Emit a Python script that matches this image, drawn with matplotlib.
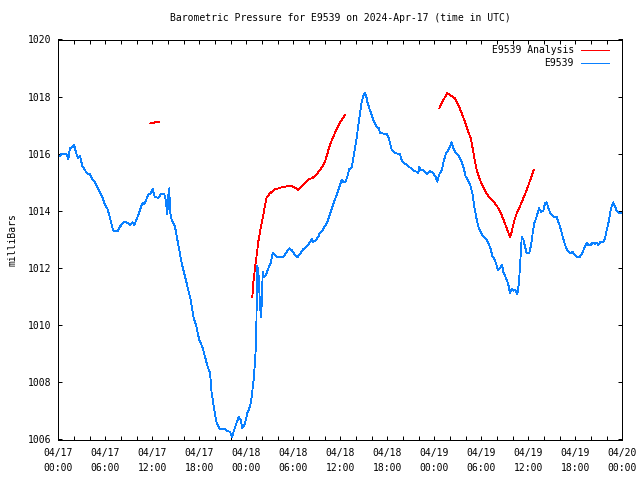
import numpy as np
import matplotlib
matplotlib.use("Agg")
import matplotlib.pyplot as plt
from matplotlib.lines import Line2D

# ---- data: hours since 2024-04-17 00:00 UTC, pressure in millibars ----
obs_hours = [0.0, 0.22, 0.34, 1.07, 1.28, 1.49, 1.79, 2.04, 2.13, 2.35, 2.55, 2.77, 2.90, 3.06,
             3.41, 3.63, 4.05, 4.34, 4.69, 4.98, 5.32, 5.67, 5.96, 6.26, 6.51, 6.73, 6.95, 7.11,
             7.58, 7.88, 8.30, 8.73, 9.15, 9.45, 9.70, 10.01, 10.30, 10.65, 10.85, 10.98, 11.29,
             11.49, 11.80, 12.05, 12.22, 12.35, 12.77, 13.07, 13.53, 13.71, 13.92, 14.04, 14.17,
             14.26, 14.48, 14.68, 14.90, 15.12, 15.41, 15.75, 16.18, 16.60, 16.90, 17.24, 17.58,
             18.00, 18.38, 18.73, 19.07, 19.37, 19.58, 19.92, 20.22, 20.64, 21.28, 21.50, 21.92,
             22.18, 22.34, 22.78, 23.03, 23.29, 23.49, 23.84, 24.13, 24.47, 24.69, 24.98, 25.24,
             25.33, 25.41, 25.53, 25.62, 25.75, 25.88, 26.00, 26.09, 26.26, 26.51, 26.81, 27.12,
             27.37, 27.58, 27.88, 28.72, 29.16, 29.49, 29.80, 30.22, 30.51, 30.86, 31.28, 31.79,
             32.13, 32.35, 32.55, 32.90, 33.19, 33.41, 33.75, 34.05, 34.34, 34.60, 34.90, 35.20,
             35.54, 35.87, 36.18, 36.38, 36.69, 36.89, 37.15, 37.46, 37.66, 37.88, 38.09, 38.30,
             38.52, 38.73, 38.94, 39.12, 39.28, 39.45, 39.70, 40.01, 40.30, 40.65, 40.94, 41.07,
             41.29, 41.93, 42.13, 42.35, 42.56, 42.98, 43.62, 43.84, 44.13, 44.48, 44.81, 45.12,
             45.41, 45.76, 45.96, 46.09, 46.27, 46.60, 47.03, 47.46, 47.87, 48.18, 48.39, 48.60,
             48.95, 49.24, 49.50, 49.79, 50.01, 50.22, 50.43, 50.77, 51.19, 51.50, 51.70, 52.01,
             52.34, 52.65, 52.90, 53.11, 53.33, 53.62, 53.96, 54.26, 54.69, 54.99, 55.24, 55.41,
             55.63, 55.88, 56.10, 56.39, 56.65, 56.81, 57.16, 57.41, 57.67, 57.88, 58.09, 58.34,
             58.60, 58.82, 58.94, 59.16, 59.36, 59.58, 59.80, 60.13, 60.35, 60.56, 60.77, 61.07,
             61.37, 61.62, 61.92, 62.13, 62.35, 62.56, 62.90, 63.19, 63.63, 64.05, 64.39, 64.69,
             64.98, 65.33, 65.62, 65.96, 66.26, 66.60, 66.90, 67.24, 67.46, 67.66, 67.97, 68.22,
             68.52, 68.73, 68.94, 69.16, 69.58, 69.80, 70.01, 70.31, 70.56, 70.85, 71.07, 71.29,
             71.58, 71.80]
obs_mbar = [1015.95, 1015.92, 1015.98, 1015.98, 1015.81, 1016.19, 1016.23, 1016.31, 1016.19,
            1015.96, 1015.86, 1015.92, 1015.78, 1015.57, 1015.43, 1015.32, 1015.28, 1015.11,
            1015.00, 1014.83, 1014.64, 1014.44, 1014.21, 1014.09, 1013.86, 1013.62, 1013.36,
            1013.30, 1013.30, 1013.45, 1013.60, 1013.60, 1013.51, 1013.60, 1013.51, 1013.71,
            1013.92, 1014.21, 1014.29, 1014.24, 1014.44, 1014.58, 1014.62, 1014.78, 1014.56,
            1014.48, 1014.46, 1014.58, 1014.58, 1014.38, 1013.89, 1014.53, 1014.79, 1013.97,
            1013.68, 1013.59, 1013.45, 1013.10, 1012.69, 1012.17, 1011.70, 1011.23, 1010.88,
            1010.30, 1010.01, 1009.48, 1009.25, 1008.90, 1008.55, 1008.32, 1007.62, 1007.03,
            1006.57, 1006.37, 1006.37, 1006.30, 1006.27, 1006.08, 1006.24, 1006.59, 1006.80,
            1006.68, 1006.39, 1006.57, 1006.92, 1007.15, 1007.50, 1008.20, 1009.31, 1010.88,
            1012.07, 1011.93, 1011.48, 1010.65, 1010.30, 1010.88, 1011.87, 1011.70, 1011.76,
            1011.99, 1012.17, 1012.53, 1012.49, 1012.38, 1012.38, 1012.57, 1012.69, 1012.63,
            1012.46, 1012.38, 1012.49, 1012.66, 1012.78, 1012.92, 1013.01, 1012.92, 1012.98,
            1013.10, 1013.24, 1013.33, 1013.47, 1013.62, 1013.82, 1014.06, 1014.32, 1014.56,
            1014.83, 1015.08, 1015.02, 1015.02, 1015.20, 1015.46, 1015.53, 1015.84, 1016.19,
            1016.54, 1017.01, 1017.42, 1017.82, 1018.02, 1018.12, 1018.06, 1017.82, 1017.59,
            1017.36, 1017.12, 1016.95, 1016.89, 1016.72, 1016.72, 1016.69, 1016.60, 1016.37,
            1016.13, 1016.02, 1015.99, 1015.78, 1015.67, 1015.61, 1015.53, 1015.49, 1015.41,
            1015.37, 1015.32, 1015.55, 1015.43, 1015.42, 1015.29, 1015.40, 1015.32, 1015.18,
            1015.02, 1015.26, 1015.43, 1015.78, 1016.02, 1016.13, 1016.25, 1016.40, 1016.19,
            1016.02, 1015.90, 1015.72, 1015.55, 1015.20, 1015.06, 1014.85, 1014.56, 1014.15,
            1013.80, 1013.45, 1013.24, 1013.10, 1012.98, 1012.81, 1012.63, 1012.40, 1012.34,
            1012.17, 1011.93, 1011.99, 1012.11, 1011.87, 1011.64, 1011.47, 1011.12, 1011.26,
            1011.21, 1011.23, 1011.09, 1011.52, 1012.05, 1013.08, 1013.01, 1012.75, 1012.52,
            1012.52, 1012.81, 1013.22, 1013.57, 1013.80, 1014.09, 1013.97, 1014.00, 1014.27,
            1014.30, 1014.09, 1013.88, 1013.80, 1013.78, 1013.45, 1013.10, 1012.81, 1012.63,
            1012.52, 1012.57, 1012.46, 1012.38, 1012.40, 1012.54, 1012.75, 1012.89, 1012.81,
            1012.81, 1012.89, 1012.84, 1012.89, 1012.81, 1012.90, 1012.90, 1013.04, 1013.33,
            1013.68, 1014.09, 1014.30, 1014.15, 1014.00, 1013.92, 1013.92]

# analysis series (NaN = gap between segments)
ana_hours = [11.71, 12.22, 12.30, 12.85, np.nan,
             24.77, 24.89, 25.11, 25.33, 25.53, 25.75, 25.97, 26.17, 26.39, 26.61, 26.94,
             27.24, 27.67, 28.09, 28.52, 28.94, 29.36, 29.80, 30.13, 30.35, 30.64, 30.86,
             31.20, 31.62, 32.04, 32.48, 32.90, 33.32, 33.75, 34.05, 34.34, 34.60, 34.90,
             35.20, 35.54, 35.87, 36.22, 36.60, np.nan,
             48.64, 49.15, 49.66, 50.22, 50.64, 51.07, 51.50, 51.92, 52.34, 52.65, 52.90,
             53.11, 53.41, 53.75, 54.18, 54.60, 55.11, 55.62, 56.04, 56.48, 56.81, 57.16,
             57.45, 57.67, 57.88, 58.17, 58.52, 58.94, 59.36, 59.71, 60.13, 60.44, 60.69]
ana_mbar = [1017.06, 1017.08, 1017.11, 1017.11, np.nan,
            1011.00, 1011.47, 1012.00, 1012.46, 1012.92, 1013.27, 1013.57, 1013.86, 1014.21,
            1014.48, 1014.59, 1014.67, 1014.76, 1014.79, 1014.83, 1014.85, 1014.87, 1014.87,
            1014.83, 1014.79, 1014.73, 1014.79, 1014.91, 1015.02, 1015.11, 1015.16, 1015.26,
            1015.40, 1015.57, 1015.72, 1015.99, 1016.25, 1016.46, 1016.66, 1016.86, 1017.04,
            1017.21, 1017.36, np.nan,
            1017.59, 1017.88, 1018.12, 1018.02, 1017.94, 1017.71, 1017.42, 1017.12, 1016.77,
            1016.54, 1016.19, 1015.84, 1015.43, 1015.14, 1014.87, 1014.64, 1014.44, 1014.32,
            1014.15, 1013.94, 1013.71, 1013.45, 1013.24, 1013.10, 1013.27, 1013.62, 1013.92,
            1014.17, 1014.44, 1014.67, 1014.99, 1015.22, 1015.43]

xtick_hours = list(range(0, 73, 6))
xtick_labels = ["04/17\n00:00", "04/17\n06:00", "04/17\n12:00", "04/17\n18:00",
                "04/18\n00:00", "04/18\n06:00", "04/18\n12:00", "04/18\n18:00",
                "04/19\n00:00", "04/19\n06:00", "04/19\n12:00", "04/19\n18:00",
                "04/20\n00:00"]
ytick_vals = list(range(1006, 1021, 2))

series_names = ["E9539 Analysis", "E9539"]
series_colors = ["#ff0000", "#0a80ff"]

FONT = ["DejaVu Sans Mono"]
FS = 7
LW = 0.6

fig = plt.figure(figsize=(6.4, 4.8), dpi=100)
ax = fig.add_axes([58.3 / 640, 1 - 439.5 / 480, 564 / 640, 400 / 480])

ax.plot(ana_hours, ana_mbar, color=series_colors[0], lw=LW, antialiased=False)
ax.plot(obs_hours, obs_mbar, color=series_colors[1], lw=LW, antialiased=False)

ax.set_xlim(0, 72)
ax.set_ylim(1006, 1020)
ax.set_xticks(xtick_hours)
ax.set_xticklabels(xtick_labels, fontfamily=FONT, fontsize=FS, linespacing=1.6)
ax.set_xticks(list(range(0, 73, 2)), minor=True)
ax.set_yticks(ytick_vals)
ax.set_yticklabels([str(v) for v in ytick_vals], fontfamily=FONT, fontsize=FS)
ax.tick_params(axis="both", which="both", direction="in", top=True, right=True,
               length=2.9, width=0.72, color="black")
ax.tick_params(axis="x", which="major", pad=6)
ax.tick_params(axis="y", which="major", pad=4.7)
for s in ax.spines.values():
    s.set_linewidth(0.72)
    s.set_color("black")

ax.set_title("Barometric Pressure for E9539 on 2024-Apr-17 (time in UTC)",
             fontfamily=FONT, fontsize=FS, pad=13)
ax.set_ylabel("milliBars", fontfamily=FONT, fontsize=FS, labelpad=8)

# legend, gnuplot-style: right-aligned labels, sample line to the right
leg_rows_y = [(439.5 - 50) / 400, (439.5 - 63) / 400]
for name, col, yy in zip(series_names, series_colors, leg_rows_y):
    ax.text(0.914, yy, name, transform=ax.transAxes, ha="right", va="center",
            fontfamily=FONT, fontsize=FS)
    ax.add_line(Line2D([0.927, 0.977], [yy, yy], transform=ax.transAxes,
                       color=col, lw=LW, antialiased=False))

fig.savefig("out.png", dpi=100)
